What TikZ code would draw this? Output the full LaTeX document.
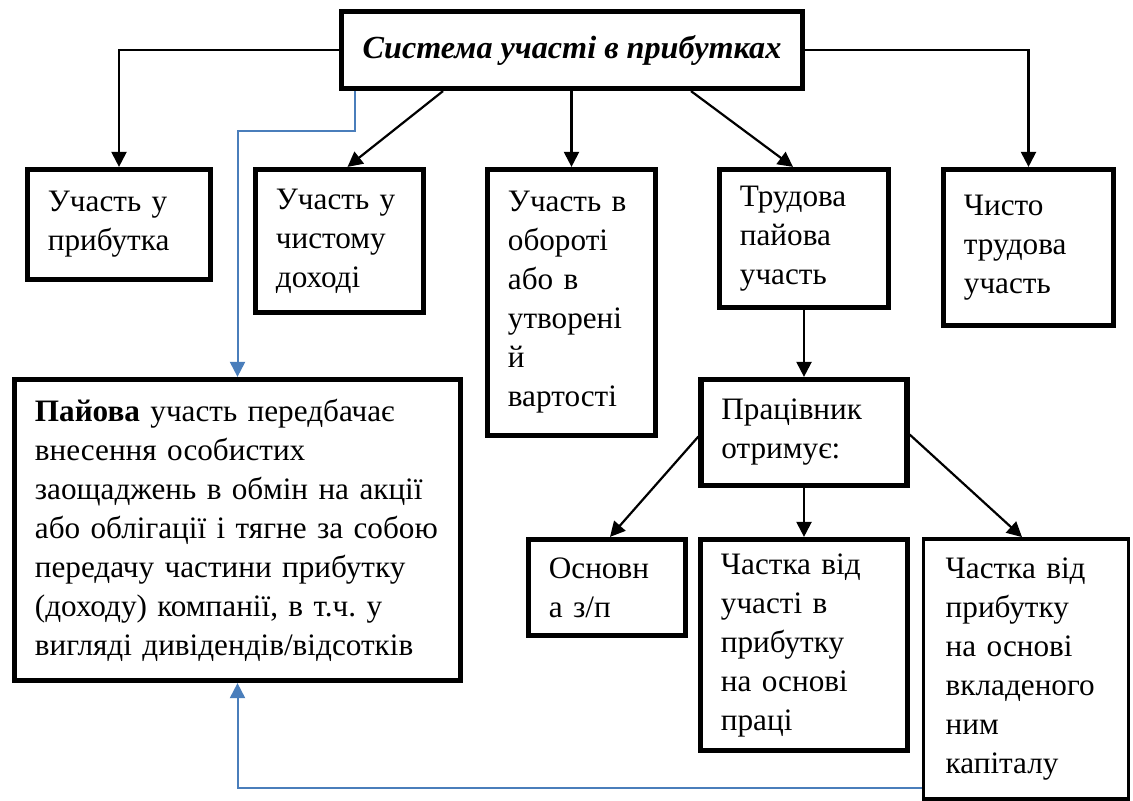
\documentclass[tikz,border=0pt]{standalone}
\usepackage{fontspec}
\setmainfont{Liberation Serif}
\usetikzlibrary{arrows.meta,calc}
\definecolor{linkblue}{HTML}{4A7EBB}
\frenchspacing

\begin{document}
\begin{tikzpicture}[x=0.5pt,y=-0.5pt,
  box/.style={draw, line width=2.6pt, inner xsep=10.2pt, inner ysep=0pt,
    font=\fontsize{15.6}{19.5}\selectfont},
  arr/.style={-{Triangle[length=7.5pt,width=7.5pt]}, line width=1.1pt},
  bluearr/.style={-{Triangle[length=7.5pt,width=7.5pt]}, line width=1pt, linkblue}]
  % picture frame, in pixels of the original (y runs down)
  \useasboundingbox (0,0) rectangle (1133,801);

  % Top of the tree
  \node[box, inner xsep=0pt, minimum width=230.5pt, minimum height=38.5pt,
    font=\fontsize{16.1}{19.5}\selectfont\bfseries\itshape] (title) at (572,50)
    {Система участі в прибутках};

  % First row
  \node[box, minimum width=91.5pt, minimum height=55pt, text width=71.1pt] (profit) at (119,224.5)
    {Участь у\\прибутка};
  \node[box, minimum width=84pt, minimum height=71.5pt, text width=63.6pt] (netinc) at (339.5,241)
    {Участь у\\чистому\\доході};
  \node[box, minimum width=84pt, minimum height=133pt, text width=63.6pt] (turnover) at (571.5,302.5)
    {Участь в\\обороті\\або в\\утворені\\й\\вартості};
  \node[box, minimum width=84.5pt, minimum height=69pt, text width=64.1pt] (labour) at (804,238.5)
    {Трудова\\пайова\\участь};
  \node[box, minimum width=85pt, minimum height=78pt, text width=64.6pt] (purelab) at (1028.5,247.5)
    {Чисто\\трудова\\участь};

  % Share participation
  \node[box, minimum width=223pt, minimum height=150.5pt, text width=202.6pt] (share) at (237.5,530)
    {\textbf{Пайова} участь передбачає\\внесення особистих\\заощаджень в обмін на акції\\або облігації і тягне за собою\\передачу частини прибутку\\(доходу) компанії, в т.ч. у\\вигляді дивідендів/відсотків};

  % What the worker gets
  \node[box, minimum width=103pt, minimum height=53pt, text width=82.6pt] (worker) at (804,432.5)
    {Працівник\\отримує:};
  \node[box, minimum width=78.5pt, minimum height=48pt, text width=58.1pt] (base) at (607,587.5)
    {Основн\\а з/п};
  \node[box, minimum width=103.5pt, minimum height=105.5pt, text width=83.1pt] (labshare) at (804,645)
    {Частка від\\участі в\\прибутку\\на основі\\праці};
  \node[box, line width=1.8pt, inner xsep=11.1pt, minimum width=102.5pt, minimum height=130.1pt,
    text width=80.3pt] (capital) at (1026,669)
    {Частка від\\прибутку\\на основі\\вкладеного\\ним\\капіталу};

  % Connectors
  \draw[arr] (title.west) -| (profit.north);
  \draw[arr] (title.east) -| (purelab.north);
  \draw[arr] ($(title.south)+(-129,0)$) -- ($(netinc.north)+(8,0)$);
  \draw[arr] (turnover.north |- title.south) -- (turnover.north);
  \draw[arr] ($(title.south)+(119,0)$) -- ($(labour.north)+(-11,0)$);
  \draw[arr] (labour.south) -- (worker.north);
  \draw[arr] ($(worker.west)+(0,4)$) -- ($(base.north)+(3,0)$);
  \draw[arr] (worker.south) -- (labshare.north);
  \draw[arr] ($(worker.east)+(0,2)$) -- ($(capital.north)+(-4,0)$);

  % Blue links to the share box
  \draw[bluearr] ($(title.south)+(-217,0)$) -- ++(0,40) -| (share.north);
  \draw[bluearr] ($(capital.south west)+(0,-13)$) -| (share.south);
\end{tikzpicture}
\end{document}
